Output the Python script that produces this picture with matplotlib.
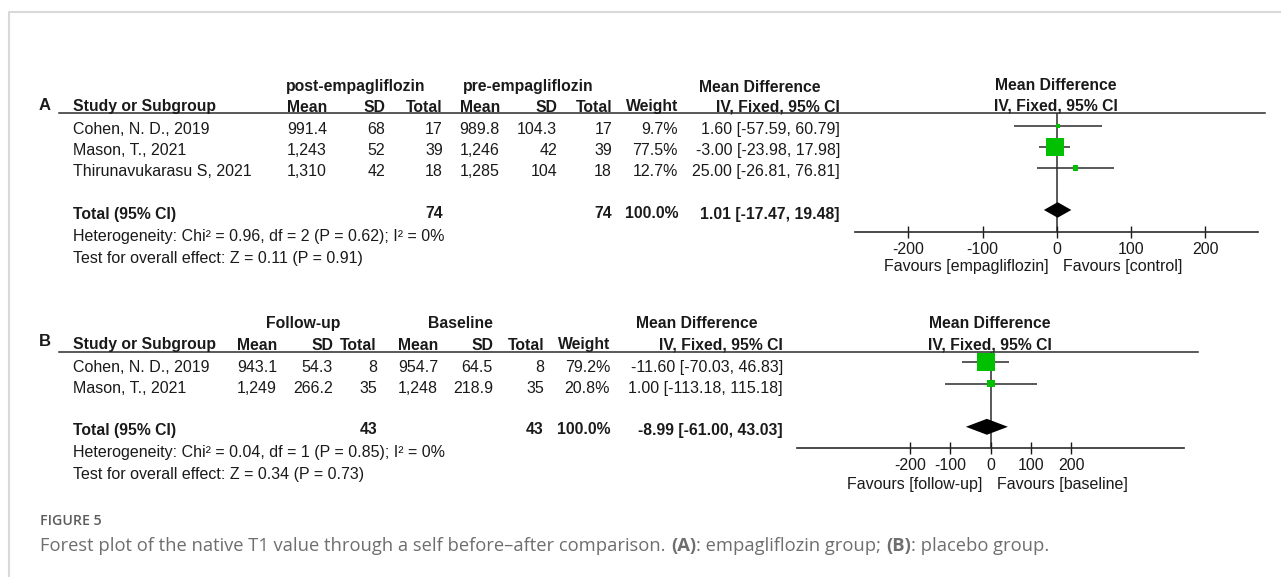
import matplotlib.pyplot as plt

plt.rcParams['font.family'] = ['Liberation Sans', 'DejaVu Sans']
plt.rcParams['axes.unicode_minus'] = False

# ---- data, panel A (empagliflozin) ----
studies_a = ["Cohen, N. D., 2019", "Mason, T., 2021", "Thirunavukarasu S, 2021"]
post_mean_a = [991.4, 1243, 1310]
post_sd_a = [68, 52, 42]
post_n_a = [17, 39, 18]
pre_mean_a = [989.8, 1246, 1285]
pre_sd_a = [104.3, 42, 104]
pre_n_a = [17, 39, 18]
weight_a = [9.7, 77.5, 12.7]
md_a = [1.60, -3.00, 25.00]
lo_a = [-57.59, -23.98, -26.81]
hi_a = [60.79, 17.98, 76.81]
total_a = [1.01, -17.47, 19.48]
total_n_a = [74, 74]
het_a = [0.96, 2, 0.62, 0]      # chi2, df, P, I2
z_a = [0.11, 0.91]

# ---- data, panel B (placebo) ----
studies_b = ["Cohen, N. D., 2019", "Mason, T., 2021"]
fu_mean_b = [943.1, 1249]
fu_sd_b = [54.3, 266.2]
fu_n_b = [8, 35]
bl_mean_b = [954.7, 1248]
bl_sd_b = [64.5, 218.9]
bl_n_b = [8, 35]
weight_b = [79.2, 20.8]
md_b = [-11.60, 1.00]
lo_b = [-70.03, -113.18]
hi_b = [46.83, 115.18]
total_b = [-8.99, -61.00, 43.03]
total_n_b = [43, 43]
het_b = [0.04, 1, 0.85, 0]
z_b = [0.34, 0.73]

ticks = [-200, -100, 0, 100, 200]

TXT = '#1a1a1a'
LINE = '#2b2b2b'
GREEN = '#00c000'
FS = 11.5
FSB = 11.3

W, H = 1281, 577
fig = plt.figure(figsize=(W / 100, H / 100), dpi=100)
bg = fig.add_axes([0, 0, 1, 1])
bg.set_xlim(0, W)
bg.set_ylim(H, 0)
bg.axis('off')


def fmt(v):
    if v >= 1000:
        return f"{v:,.0f}"
    if v == int(v):
        return str(int(v))
    return f"{v:g}"


def ci(m, l, h):
    return f"{m:.2f} [{l:.2f}, {h:.2f}]"


def t(x, y, s, ha='left', bold=False, size=None):
    if size is None:
        size = FSB if bold else FS
    bg.text(x, y, s, ha=ha, va='center', fontsize=size,
            fontweight='bold' if bold else 'normal', color=TXT)


def px_axes(x0, y0, x1, y1):
    return fig.add_axes([x0 / W, 1 - y1 / H, (x1 - x0) / W, (y1 - y0) / H])


def forest(ax, md, lo, hi, w, tot, xlim, ylim):
    rows = list(range(len(md)))
    ax.hlines(rows, lo, hi, color=LINE, lw=1.1, zorder=2)
    sizes = [(0.86 * wi ** 0.7 * 0.72) ** 2 for wi in w]
    ax.scatter(md, rows, s=sizes, marker='s', color=GREEN, lw=0, zorder=3, clip_on=False)
    r = len(md) + 1
    ax.fill([tot[1], tot[0], tot[2], tot[0]], [r, r - 0.37, r, r + 0.37],
            color='black', lw=0, zorder=3)
    ax.axvline(0, color=LINE, lw=1.1, zorder=1)
    ax.set_xlim(*xlim)
    ax.set_ylim(*ylim)
    for s in ['top', 'left', 'right']:
        ax.spines[s].set_visible(False)
    ax.spines['bottom'].set_linewidth(1.2)
    ax.spines['bottom'].set_color(LINE)
    ax.set_yticks([])
    ax.set_xticks(ticks)
    ax.set_xticklabels([str(v) for v in ticks])
    ax.tick_params(axis='x', direction='inout', length=8, width=1.0, pad=3,
                   labelsize=FS, colors=TXT)
    ax.patch.set_visible(False)


# ---------------- panel A ----------------
cols_a = [327, 385, 443, 500, 557, 612, 678, 840]
t(45, 105, 'A', ha='center', bold=True, size=12)
t(356, 87, 'post-empagliflozin', ha='center', bold=True)
t(528, 87, 'pre-empagliflozin', ha='center', bold=True)
t(760, 87, 'Mean Difference', ha='center', bold=True)
t(1056, 86, 'Mean Difference', ha='center', bold=True)
t(72.7, 107, 'Study or Subgroup', bold=True)
for x, s in zip(cols_a, ['Mean', 'SD', 'Total', 'Mean', 'SD', 'Total', 'Weight', 'IV, Fixed, 95% CI']):
    t(x, 107, s, ha='right', bold=True)
t(1056, 106, 'IV, Fixed, 95% CI', ha='center', bold=True)
bg.plot([59, 1265], [113, 113], color=LINE, lw=1.1)

for i, name in enumerate(studies_a):
    y = 129.5 + 21 * i
    t(72.7, y, name)
    vals = [fmt(post_mean_a[i]), fmt(post_sd_a[i]), str(post_n_a[i]),
            fmt(pre_mean_a[i]), fmt(pre_sd_a[i]), str(pre_n_a[i]),
            f"{weight_a[i]:.1f}%", ci(md_a[i], lo_a[i], hi_a[i])]
    for x, s in zip(cols_a, vals):
        t(x, y, s, ha='right')

t(72.7, 214, 'Total (95% CI)', bold=True)
t(cols_a[2], 214, str(total_n_a[0]), ha='right', bold=True)
t(cols_a[5], 214, str(total_n_a[1]), ha='right', bold=True)
t(cols_a[6], 214, '100.0%', ha='right', bold=True)
t(cols_a[7], 214, ci(*total_a), ha='right', bold=True)
t(72.7, 236, f"Heterogeneity: Chi\u00b2 = {het_a[0]:.2f}, df = {het_a[1]} (P = {het_a[2]:.2f}); I\u00b2 = {het_a[3]}%")
t(72.7, 259, f"Test for overall effect: Z = {z_a[0]:.2f} (P = {z_a[1]:.2f})")

axA = px_axes(855, 113, 1258, 232)
forest(axA, md_a, lo_a, hi_a, weight_a, total_a, (-272, 271), (5.05, -0.62))
t(1049, 267, 'Favours [empagliflozin]', ha='right')
t(1063, 267, 'Favours [control]')

# ---------------- panel B ----------------
cols_b = [277, 333, 377, 438, 493, 544, 610, 783]
t(45, 342, 'B', ha='center', bold=True, size=12)
t(303, 323.5, 'Follow-up', ha='center', bold=True)
t(460, 323.5, 'Baseline', ha='center', bold=True)
t(697, 323.5, 'Mean Difference', ha='center', bold=True)
t(990, 323.5, 'Mean Difference', ha='center', bold=True)
t(72.7, 345, 'Study or Subgroup', bold=True)
for x, s in zip(cols_b, ['Mean', 'SD', 'Total', 'Mean', 'SD', 'Total', 'Weight', 'IV, Fixed, 95% CI']):
    t(x, 345, s, ha='right', bold=True)
t(990, 345, 'IV, Fixed, 95% CI', ha='center', bold=True)
bg.plot([59, 1198], [352.3, 352.3], color=LINE, lw=1.1)

for i, name in enumerate(studies_b):
    y = 367.5 + 21 * i
    t(72.7, y, name)
    vals = [fmt(fu_mean_b[i]), fmt(fu_sd_b[i]), str(fu_n_b[i]),
            fmt(bl_mean_b[i]), fmt(bl_sd_b[i]), str(bl_n_b[i]),
            f"{weight_b[i]:.1f}%", ci(md_b[i], lo_b[i], hi_b[i])]
    for x, s in zip(cols_b, vals):
        t(x, y, s, ha='right')

t(72.7, 430, 'Total (95% CI)', bold=True)
t(cols_b[2], 430, str(total_n_b[0]), ha='right', bold=True)
t(cols_b[5], 430, str(total_n_b[1]), ha='right', bold=True)
t(cols_b[6], 430, '100.0%', ha='right', bold=True)
t(cols_b[7], 430, ci(*total_b), ha='right', bold=True)
t(72.7, 453, f"Heterogeneity: Chi\u00b2 = {het_b[0]:.2f}, df = {het_b[1]} (P = {het_b[2]:.2f}); I\u00b2 = {het_b[3]}%")
t(72.7, 474, f"Test for overall effect: Z = {z_b[0]:.2f} (P = {z_b[1]:.2f})")

axB = px_axes(797, 352.3, 1184, 448.3)
forest(axB, md_b, lo_b, hi_b, weight_b, total_b, (-479, 479), (4.0, -0.465))
t(982, 484, 'Favours [follow-up]', ha='right')
t(997, 484, 'Favours [baseline]')

# ---------------- frame and caption ----------------
bg.plot([9, 9, W], [H, 12, 12], color='#d9d9d9', lw=1.5)

cap_font = ['Open Sans', 'DejaVu Sans']
bg.text(40, 521, 'FIGURE 5', ha='left', va='center', fontsize=10.2,
        family=cap_font, fontweight='semibold', color='#5c5c5c')

pieces = [("Forest plot of the native T1 value through a self before\u2013after comparison.", 'normal', 0),
          ("(A)", 'bold', 4),
          (": empagliflozin group;", 'normal', 0),
          ("(B)", 'bold', 4),
          (": placebo group.", 'normal', 0)]
prev = bg.text(40, 546, pieces[0][0], ha='left', va='center', fontsize=13.2,
               family=cap_font, color='#6e6e6e')
for s, wgt, gap in pieces[1:]:
    prev = bg.annotate(s, xy=(1, 0), xycoords=prev, xytext=(gap, 0),
                       textcoords='offset points', ha='left', va='bottom',
                       fontsize=13.2, family=cap_font, fontweight=wgt, color='#6e6e6e')

fig.savefig('out.png', dpi=100)
